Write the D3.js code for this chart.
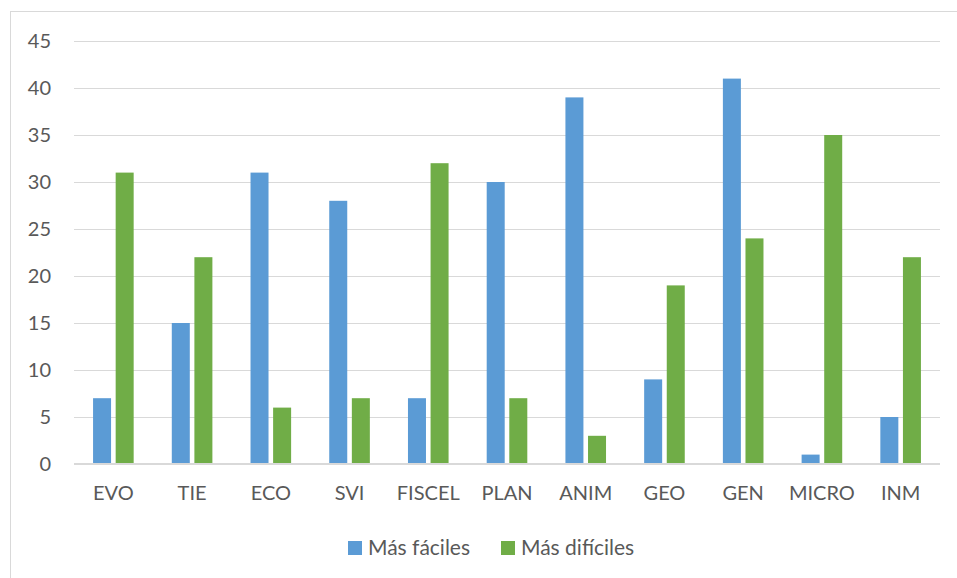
<!DOCTYPE html>
<html>
<head>
<meta charset="utf-8">
<script src="https://cdn.jsdelivr.net/npm/d3@7"></script>
<style>
  html, body { margin: 0; padding: 0; background: #fff; }
  svg { display: block; font-family: Lato, "Open Sans", sans-serif; }
</style>
</head>
<body>
<svg id="chart" width="957" height="578"></svg>
<script>
const categories = ["EVO", "TIE", "ECO", "SVI", "FISCEL", "PLAN", "ANIM", "GEO", "GEN", "MICRO", "INM"];
const facilesValues = [7, 15, 31, 28, 7, 30, 39, 9, 41, 1, 5];
const dificilesValues = [31, 22, 6, 7, 32, 7, 3, 19, 24, 35, 22];
const seriesNames = ["Más fáciles", "Más difíciles"];
const seriesColors = ["#5b9bd5", "#70ad47"];
const yTicks = [0, 5, 10, 15, 20, 25, 30, 35, 40, 45];

const svg = d3.select("#chart");
const W = 957, H = 578;

// chart frame (extends past the right and bottom edges)
svg.append("rect")
  .attr("x", 10.5).attr("y", 11.5)
  .attr("width", W + 20).attr("height", H + 20)
  .attr("fill", "#fff").attr("stroke", "#d9d9d9").attr("stroke-width", 1);

const plot = { left: 74, right: 940, top: 41, bottom: 464 };

const x = d3.scaleBand().domain(categories).range([plot.left, plot.right]);
const y = d3.scaleLinear().domain([0, 45]).range([plot.bottom, plot.top]);

// gridlines
svg.append("g").selectAll("line").data(yTicks.filter(d => d > 0)).join("line")
  .attr("x1", plot.left).attr("x2", plot.right)
  .attr("y1", d => Math.round(y(d)) + 0.5).attr("y2", d => Math.round(y(d)) + 0.5)
  .attr("stroke", "#d9d9d9").attr("stroke-width", 1);

// y axis labels
const yAxis = d3.axisLeft(y).tickValues(yTicks).tickSize(0).tickPadding(0);
const yg = svg.append("g").attr("transform", `translate(51,0)`).call(yAxis);
yg.select(".domain").remove();
yg.selectAll("text").attr("font-size", 20).attr("fill", "#595959").attr("font-family", "Lato, sans-serif");

// bars
const barW = 18, off = 2.3;
const series = [facilesValues, dificilesValues];
series.forEach((vals, si) => {
  svg.append("g").selectAll("rect").data(categories).join("rect")
    .attr("x", (c) => x(c) + x.bandwidth() / 2 + (si === 0 ? -off - barW : off))
    .attr("y", (c, i) => y(vals[i]))
    .attr("width", barW)
    .attr("height", (c, i) => y(0) - y(vals[i]))
    .attr("fill", seriesColors[si]);
});

// baseline
svg.append("line")
  .attr("x1", plot.left).attr("x2", plot.right)
  .attr("y1", y(0)).attr("y2", y(0))
  .attr("stroke", "#d9d9d9").attr("stroke-width", 2);

// x axis labels
const xAxis = d3.axisBottom(x).tickSize(0).tickPadding(0);
const xg = svg.append("g").attr("transform", `translate(0,${y(0) + 22})`).call(xAxis);
xg.select(".domain").remove();
xg.selectAll("text").attr("font-size", 20).attr("fill", "#595959").attr("font-family", "Lato, sans-serif");

// legend
const legendItems = [{ x: 348 }, { x: 501 }];
legendItems.forEach((it, i) => {
  const g = svg.append("g").attr("transform", `translate(${it.x},541)`);
  g.append("rect").attr("width", 14).attr("height", 14).attr("fill", seriesColors[i]);
  g.append("text").attr("x", 20).attr("y", 7).attr("dy", "0.35em")
    .attr("font-size", 21).attr("fill", "#595959").text(seriesNames[i]);
});
</script>
</body>
</html>
